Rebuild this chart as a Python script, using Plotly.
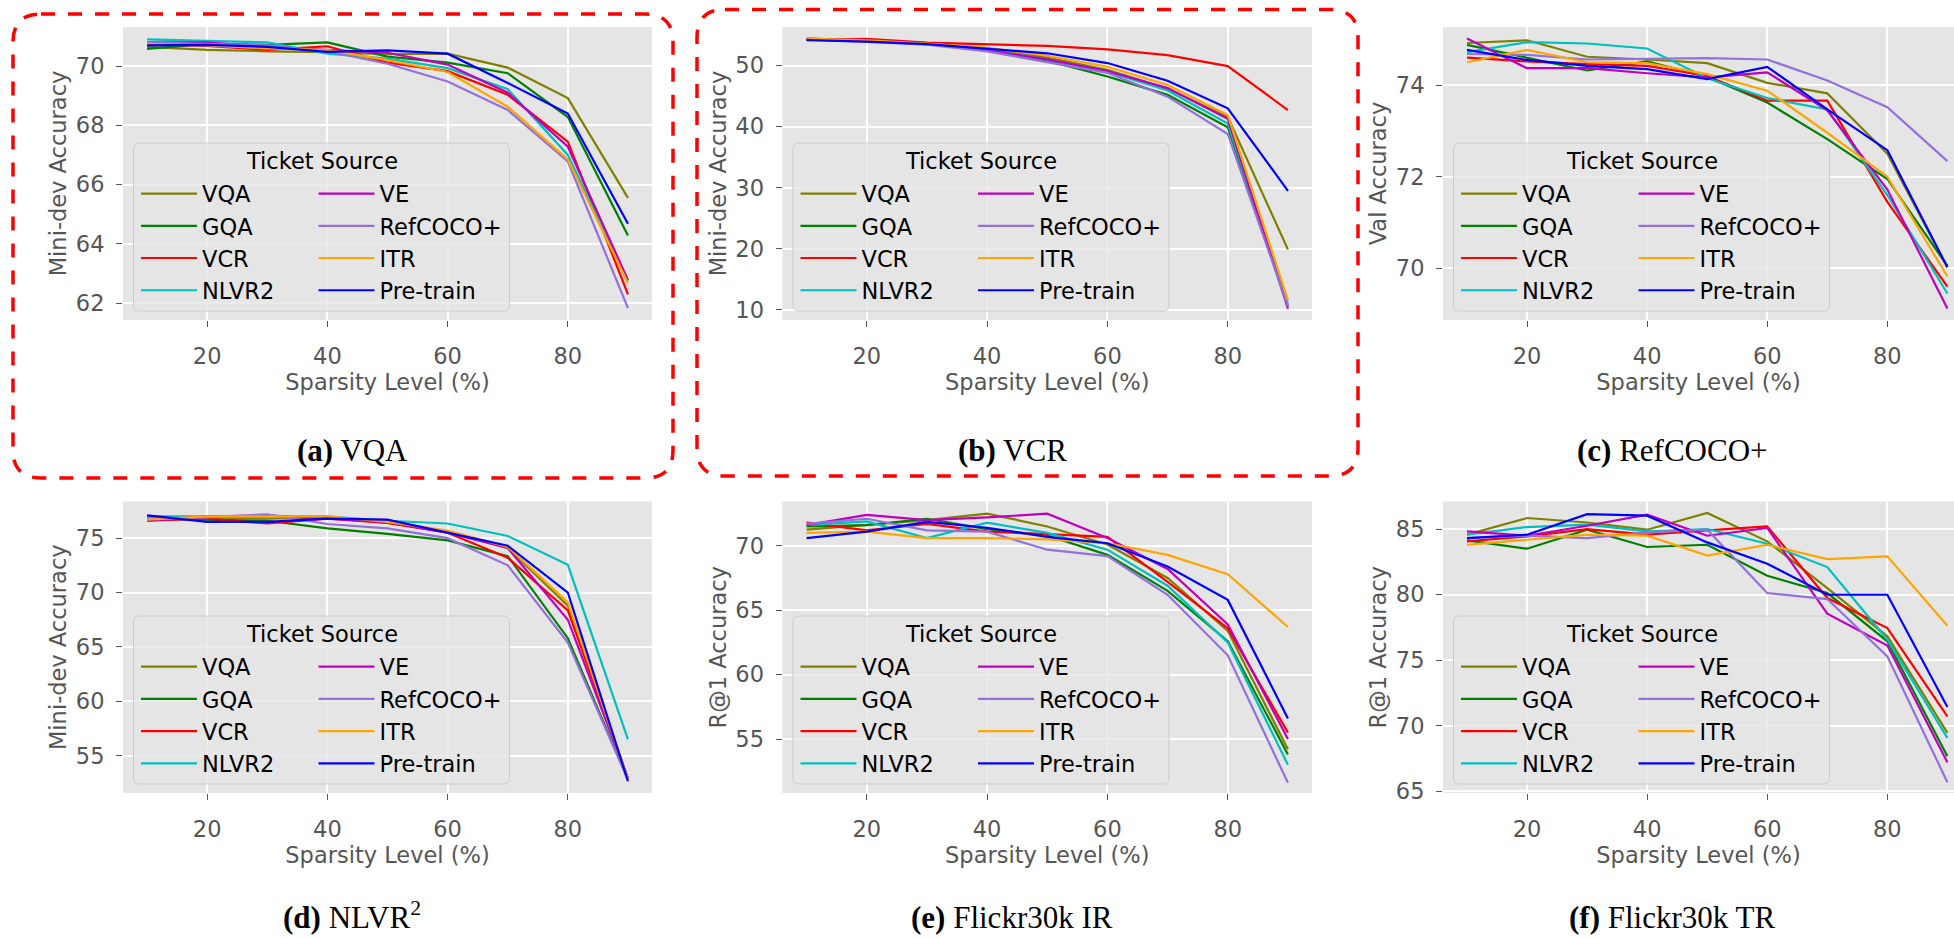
import plotly.graph_objects as go

W, H = 1954, 938

sparsity = [10, 20, 30, 40, 50, 60, 70, 80, 90]
sources = ["VQA", "GQA", "VCR", "NLVR2", "VE", "RefCOCO+", "ITR", "Pre-train"]
colors = ["#808000", "#008000", "#ff0000", "#00bfbf", "#bf00bf", "#9370db", "#ffa500", "#0000ff"]
x_ticks = [20, 40, 60, 80]

# (a) VQA - Mini-dev Accuracy
vqa_panel = {
    "VQA":       [70.65, 70.55, 70.50, 70.47, 70.40, 70.42, 69.95, 68.92, 65.55],
    "GQA":       [70.58, 70.75, 70.72, 70.80, 70.32, 70.12, 69.76, 68.28, 64.28],
    "VCR":       [70.75, 70.68, 70.55, 70.67, 70.12, 69.83, 69.03, 67.45, 62.30],
    "NLVR2":     [70.90, 70.85, 70.80, 70.42, 70.25, 69.93, 69.22, 67.00, 62.73],
    "VE":        [70.80, 70.80, 70.65, 70.55, 70.45, 70.05, 69.10, 67.28, 62.78],
    "RefCOCO+":  [70.80, 70.75, 70.70, 70.50, 70.08, 69.48, 68.52, 66.78, 61.83],
    "ITR":       [70.75, 70.70, 70.60, 70.55, 70.20, 69.80, 68.63, 66.85, 62.68],
    "Pre-train": [70.70, 70.72, 70.65, 70.48, 70.53, 70.42, 69.43, 68.40, 64.68],
}
# (b) VCR - Mini-dev Accuracy
vcr_panel = {
    "VQA":       [54.45, 54.05, 53.65, 52.85, 51.3, 49.3, 46.2, 41.6, 19.9],
    "GQA":       [54.3, 54.0, 53.5, 52.6, 50.8, 48.2, 45.2, 39.9, 10.6],
    "VCR":       [54.2, 54.35, 53.75, 53.5, 53.2, 52.65, 51.7, 49.9, 42.7],
    "NLVR2":     [54.3, 54.0, 53.5, 52.6, 51.0, 49.0, 45.9, 40.5, 11.0],
    "VE":        [54.3, 54.05, 53.5, 52.5, 51.0, 49.1, 46.3, 41.3, 10.2],
    "RefCOCO+":  [54.3, 53.9, 53.4, 52.3, 50.6, 48.8, 44.9, 38.8, 10.6],
    "ITR":       [54.4, 54.1, 53.6, 52.9, 51.6, 49.8, 46.8, 41.9, 11.6],
    "Pre-train": [54.15, 53.9, 53.5, 52.8, 52.0, 50.4, 47.5, 43.0, 29.5],
}
# (c) RefCOCO+ - Val Accuracy
ref_panel = {
    "VQA":       [74.92, 74.98, 74.62, 74.56, 74.48, 74.05, 73.82, 72.50, 70.02],
    "GQA":       [74.88, 74.60, 74.32, 74.52, 74.18, 73.62, 72.82, 71.95, 70.05],
    "VCR":       [74.60, 74.52, 74.46, 74.42, 74.20, 73.66, 73.66, 71.45, 69.60],
    "NLVR2":     [74.72, 74.94, 74.91, 74.80, 74.15, 73.72, 73.47, 71.60, 69.45],
    "VE":        [75.02, 74.37, 74.37, 74.26, 74.17, 74.28, 73.45, 71.72, 69.12],
    "RefCOCO+":  [74.68, 74.66, 74.56, 74.57, 74.59, 74.56, 74.10, 73.52, 72.34],
    "ITR":       [74.50, 74.77, 74.50, 74.48, 74.24, 73.88, 72.96, 72.00, 69.82],
    "Pre-train": [74.77, 74.55, 74.42, 74.35, 74.13, 74.40, 73.47, 72.58, 70.02],
}
# (d) NLVR2 - Mini-dev Accuracy
nlvr_panel = {
    "VQA":       [76.8, 76.9, 76.8, 76.9, 76.4, 75.6, 74.1, 68.8, 52.9],
    "GQA":       [76.8, 76.7, 76.6, 75.9, 75.4, 74.8, 73.35, 65.8, 52.8],
    "VCR":       [76.6, 76.8, 76.35, 76.8, 76.4, 75.5, 73.2, 68.35, 52.9],
    "NLVR2":     [77.0, 77.0, 77.0, 77.0, 76.6, 76.35, 75.2, 72.55, 56.5],
    "VE":        [76.6, 77.0, 77.1, 76.8, 76.5, 75.5, 74.1, 67.5, 52.9],
    "RefCOCO+":  [76.8, 76.9, 77.2, 76.3, 75.9, 75.0, 72.5, 65.4, 52.8],
    "ITR":       [76.7, 77.0, 77.0, 77.0, 76.5, 75.7, 74.2, 69.1, 52.8],
    "Pre-train": [77.1, 76.5, 76.5, 76.8, 76.7, 75.5, 74.3, 70.0, 52.65],
}
# (e) Flickr30k IR - R@1 Accuracy
ir_panel = {
    "VQA":       [71.25, 71.6, 72.0, 72.5, 71.5, 70.1, 67.5, 63.4, 54.2],
    "GQA":       [71.5, 71.6, 72.1, 71.3, 70.8, 69.3, 66.5, 62.6, 53.8],
    "VCR":       [71.8, 71.2, 71.7, 71.1, 70.9, 70.7, 67.2, 63.6, 55.5],
    "NLVR2":     [71.6, 71.9, 70.6, 71.8, 71.0, 69.7, 66.9, 62.5, 53.0],
    "VE":        [71.6, 72.4, 72.0, 72.2, 72.5, 70.6, 68.2, 63.9, 55.0],
    "RefCOCO+":  [71.7, 72.1, 71.2, 71.1, 69.7, 69.2, 66.2, 61.5, 51.6],
    "ITR":       [71.0, 71.1, 70.6, 70.6, 70.5, 70.2, 69.3, 67.8, 63.7],
    "Pre-train": [70.6, 71.1, 71.85, 71.4, 70.7, 70.2, 68.4, 65.8, 56.6],
}
# (f) Flickr30k TR - R@1 Accuracy
tr_panel = {
    "VQA":       [84.57, 85.84, 85.5, 84.95, 86.22, 84.06, 80.5, 76.82, 69.45],
    "GQA":       [84.14, 83.5, 84.95, 83.63, 83.8, 81.44, 80.12, 76.44, 67.67],
    "VCR":       [84.06, 84.44, 85.0, 84.57, 84.9, 85.2, 79.74, 77.45, 70.72],
    "NLVR2":     [84.57, 85.15, 85.33, 84.82, 85.0, 83.88, 82.1, 76.56, 69.07],
    "VE":        [84.82, 84.49, 85.25, 86.09, 84.49, 85.08, 78.55, 76.11, 67.21],
    "RefCOCO+":  [84.31, 84.49, 84.31, 84.75, 84.95, 80.12, 79.66, 75.29, 65.69],
    "ITR":       [83.8, 84.19, 84.57, 84.49, 82.97, 83.8, 82.71, 82.92, 77.63],
    "Pre-train": [84.31, 84.57, 86.14, 86.02, 83.98, 82.36, 79.99, 79.99, 71.43],
}

y_titles = ["Mini-dev Accuracy", "Mini-dev Accuracy", "Val Accuracy",
            "Mini-dev Accuracy", "R@1 Accuracy", "R@1 Accuracy"]
y_tickvals = [[62, 64, 66, 68, 70], [10, 20, 30, 40, 50], [70, 72, 74],
              [55, 60, 65, 70, 75], [55, 60, 65, 70], [65, 70, 75, 80, 85]]
captions = ["<b>(a)</b> VQA", "<b>(b)</b> VCR", "<b>(c)</b> RefCOCO+",
            "<b>(d)</b> NLVR<sup>2</sup>", "<b>(e)</b> Flickr30k IR", "<b>(f)</b> Flickr30k TR"]
panels = [vqa_panel, vcr_panel, ref_panel, nlvr_panel, ir_panel, tr_panel]

# ---- layout geometry (pixels) ----
y_ranges = [[61.43, 71.32], [8.36, 56.3], [68.87, 75.27],
            [51.57, 78.37], [50.81, 73.44], [64.87, 87.1]]
x_ranges = [[6, 94], [6, 94], [6, 91.1]]
col_left = [123, 782.5, 1443]
col_right = [652, 1312, 1954]
row_top = [27, 501.5]
row_bot = [320, 793]
caption_x = [352, 1012, 1672]

FONT = "DejaVu Sans"
GRAY = "#555555"


def px(x):
    return x / W


def py(y):
    return 1 - y / H


def rounded_path(x0, y0, x1, y1, r):
    def P(x, y):
        return f"{px(x):.6f},{py(y):.6f}"
    return (f"M{P(x0 + r, y0)} L{P(x1 - r, y0)} Q{P(x1, y0)} {P(x1, y0 + r)} "
            f"L{P(x1, y1 - r)} Q{P(x1, y1)} {P(x1 - r, y1)} "
            f"L{P(x0 + r, y1)} Q{P(x0, y1)} {P(x0, y1 - r)} "
            f"L{P(x0, y0 + r)} Q{P(x0, y0)} {P(x0 + r, y0)} Z")


fig = go.Figure()
layout = dict(
    width=W, height=H,
    margin=dict(l=0, r=0, t=0, b=0, autoexpand=False),
    paper_bgcolor="white", plot_bgcolor="#E5E5E5",
    font=dict(family=FONT, size=22.5, color=GRAY),
    showlegend=True,
)
shapes = []
annotations = []

for p, data in enumerate(panels):
    row, col = divmod(p, 3)
    k = p + 1
    xa = "x" if k == 1 else f"x{k}"
    ya = "y" if k == 1 else f"y{k}"
    leg1 = "legend" if p == 0 else f"legend{2 * p + 1}"
    leg2 = f"legend{2 * p + 2}"
    for i, src in enumerate(sources):
        fig.add_trace(go.Scatter(
            x=sparsity, y=data[src], mode="lines", name=src,
            line=dict(color=colors[i], width=2.2),
            xaxis=xa, yaxis=ya,
            legend=leg1 if i < 4 else leg2,
            legendrank=i + 1,
            hoverinfo="skip",
        ))
    axis_common = dict(
        showgrid=True, gridcolor="white", gridwidth=1.6, zeroline=False, showline=False,
        ticks="outside", ticklen=6, tickwidth=1.3, tickcolor=GRAY,
        tickfont=dict(family=FONT, size=22.5, color=GRAY),
    )
    layout["xaxis" if k == 1 else f"xaxis{k}"] = dict(
        axis_common, domain=[px(col_left[col]), px(col_right[col])],
        range=x_ranges[col], tickvals=x_ticks, anchor=ya, ticklabelstandoff=10,
        title=dict(text="Sparsity Level (%)", font=dict(family=FONT, size=22.5, color=GRAY), standoff=5),
    )
    layout["yaxis" if k == 1 else f"yaxis{k}"] = dict(
        axis_common, domain=[py(row_bot[row]), py(row_top[row])],
        range=y_ranges[p], tickvals=y_tickvals[p], anchor=xa, ticklabelstandoff=7,
        title=dict(text=y_titles[p], font=dict(family=FONT, size=22.5, color=GRAY), standoff=2),
    )

    # legend box
    box_l = col_left[col] + 10.5
    box_t = [143, 616][row]
    box_w, box_h = 376, 168
    shapes.append(dict(type="path", xref="paper", yref="paper",
                       path=rounded_path(box_l, box_t, box_l + box_w, box_t + box_h, 6),
                       fillcolor="rgba(229,229,229,0.8)",
                       line=dict(color="#cccccc", width=1), layer="above"))
    leg_common = dict(xref="paper", yref="paper", xanchor="left", yanchor="top",
                      bgcolor="rgba(0,0,0,0)", borderwidth=0, itemwidth=56,
                      tracegroupgap=0, orientation="v",
                      font=dict(family=FONT, size=22.5, color="black"))
    layout[leg1] = dict(leg_common, x=px(box_l + 2.5), y=py(box_t + 29.4))
    layout[leg2] = dict(leg_common, x=px(box_l + 180), y=py(box_t + 29.4))
    annotations.append(dict(xref="paper", yref="paper", x=px(box_l + box_w / 2), y=py(box_t + 18.3),
                            text="Ticket Source", showarrow=False, xanchor="center", yanchor="middle",
                            font=dict(family=FONT, size=22.5, color="black")))
    # caption
    if row == 0:
        cap_pos = dict(y=py(450), yanchor="middle")
    else:
        cap_pos = dict(y=py(937), yanchor="bottom")
    annotations.append(dict(xref="paper", yref="paper", x=px(caption_x[col]),
                            text=captions[p], showarrow=False, xanchor="center",
                            font=dict(family="Liberation Serif", size=31, color="black"), **cap_pos))

# red dashed highlight boxes around (a) and (b)
for (x0, y0, x1, y1) in [(13, 14, 673, 478), (697, 9.5, 1358, 476)]:
    shapes.append(dict(type="path", xref="paper", yref="paper",
                       path=rounded_path(x0, y0, x1, y1, 28),
                       fillcolor="rgba(0,0,0,0)",
                       line=dict(color="#ff0000", width=3.5, dash="14px,13px"), layer="above"))

layout["shapes"] = shapes
layout["annotations"] = annotations
fig.update_layout(**layout)

fig.write_html("out.html", config={"responsive": False, "displayModeBar": False},
               post_script="document.body.style.margin='0';document.body.style.overflow='hidden';")
